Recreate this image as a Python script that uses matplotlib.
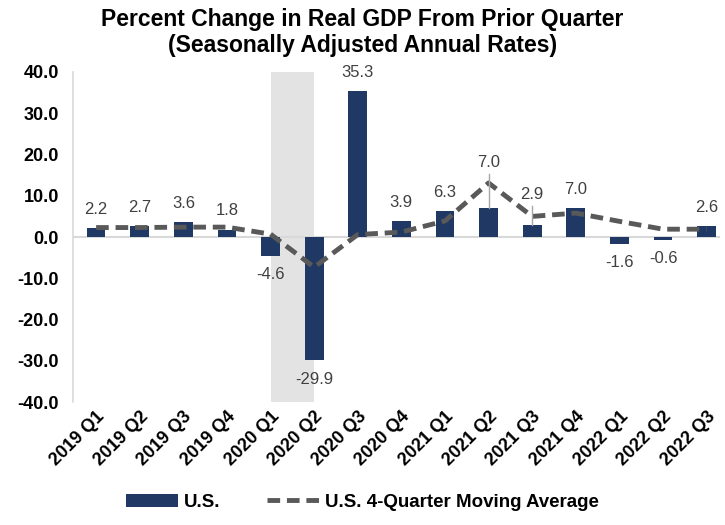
import matplotlib

matplotlib.use("Agg")
import matplotlib.pyplot as plt  # noqa: E402

plt.rcParams["font.family"] = ["Liberation Sans", "DejaVu Sans"]

quarters = [
    "2019 Q1", "2019 Q2", "2019 Q3", "2019 Q4",
    "2020 Q1", "2020 Q2", "2020 Q3", "2020 Q4",
    "2021 Q1", "2021 Q2", "2021 Q3", "2021 Q4",
    "2022 Q1", "2022 Q2", "2022 Q3",
]
gdp_change = [2.2, 2.7, 3.6, 1.8, -4.6, -29.9, 35.3, 3.9, 6.3, 7.0, 2.9, 7.0, -1.6, -0.6, 2.6]
moving_avg = [2.3, 2.3, 2.4, 2.4, 0.7, -7.3, 0.6, 1.2, 3.9, 13.1, 5.0, 5.8, 3.8, 1.9, 1.9]
# labels lifted above the moving-average line get a leader line
lifted_labels = {9: 16.3, 10: 8.5}
recession = (4, 5)
y_ticks = [40, 30, 20, 10, 0, -10, -20, -30, -40]

BAR_COLOR = "#1F3864"
LINE_COLOR = "#595959"
TEXT_COLOR = "#404040"
SHADE_COLOR = "#E3E3E3"
AXIS_COLOR = "#D9D9D9"

fig = plt.figure(figsize=(7.25, 5.25), dpi=100)
ax = fig.add_axes([0.1007, 0.234, 0.892, 0.629])

xs = list(range(len(quarters)))
ax.axvspan(recession[0], recession[1], color=SHADE_COLOR, zorder=0, lw=0)
ax.axhline(0, color=AXIS_COLOR, lw=1.5, zorder=1)
bars = ax.bar(xs, gdp_change, width=0.43, color=BAR_COLOR, zorder=2, label="U.S.")
line, = ax.plot(xs, moving_avg, color=LINE_COLOR, lw=3.5, ls=(0, (2.6, 1.4)), zorder=3,
                label="U.S. 4-Quarter Moving Average")

for i, v in enumerate(gdp_change):
    if i in lifted_labels:
        ly = lifted_labels[i]
        ax.plot([i, i], [v, ly - 1.0], color="#A6A6A6", lw=1, zorder=4)
        ax.text(i, ly, f"{v:.1f}", ha="center", va="bottom", fontsize=12, color=TEXT_COLOR)
    elif v >= 0:
        ax.annotate(f"{v:.1f}", (i, v), xytext=(0, 8), textcoords="offset points",
                    ha="center", va="bottom", fontsize=12, color=TEXT_COLOR)
    else:
        ax.annotate(f"{v:.1f}", (i, v), xytext=(0, -8), textcoords="offset points",
                    ha="center", va="top", fontsize=12, color=TEXT_COLOR)

ax.set_ylim(-40, 40)
ax.set_xlim(-0.53, 14.3)
ax.set_yticks(y_ticks)
ax.set_yticklabels([f"{t:.1f}" for t in y_ticks], fontsize=13, fontweight="bold")
ax.set_xticks(xs)
ax.set_xticklabels(quarters, rotation=45, ha="right", rotation_mode="anchor",
                   fontsize=13, fontweight="bold")
ax.tick_params(axis="both", length=0, colors="black", pad=4)
ax.tick_params(axis="y", pad=10)
for s in ("top", "right", "bottom"):
    ax.spines[s].set_visible(False)
ax.spines["left"].set_color(AXIS_COLOR)
ax.spines["left"].set_linewidth(1.2)

fig.text(0.5, 0.985, "Percent Change in Real GDP From Prior Quarter\n(Seasonally Adjusted Annual Rates)",
         ha="center", va="top", fontsize=16.5, fontweight="bold", linespacing=1.15)

fig.legend([bars, line], ["U.S.", "U.S. 4-Quarter Moving Average"],
           loc="lower center", bbox_to_anchor=(0.5, -0.005), ncol=2, frameon=False,
           prop={"weight": "bold", "size": 13.5}, handlelength=2.8,
           columnspacing=2.5, handletextpad=0.3)

fig.savefig("out.png", dpi=100)
